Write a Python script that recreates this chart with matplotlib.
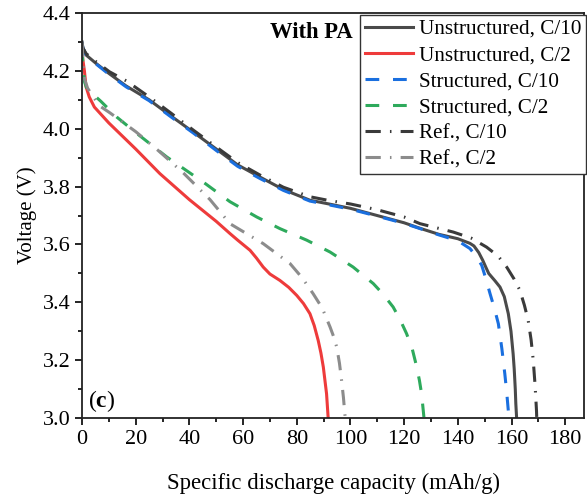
import numpy as np
import matplotlib
matplotlib.use("Agg")
import matplotlib.pyplot as plt
from matplotlib.ticker import MultipleLocator

plt.rcParams['font.family'] = ['Liberation Serif', 'DejaVu Serif']
plt.rcParams['mathtext.fontset'] = 'custom'
plt.rcParams['mathtext.rm'] = 'Liberation Serif'
plt.rcParams['mathtext.bf'] = 'Liberation Serif:bold'

# Unstructured, C/10
x_u10 = [0, 0.3, 1.5, 5.2, 10.2, 16.4, 25, 33, 41.5, 50, 58, 66.3, 75, 84.9, 92, 100, 110, 120,
         125.9, 133, 140, 144.5, 146, 147.8, 149.3, 150.5, 151.5, 152.6, 153.8, 155.7, 157.3,
         158.8, 159.8, 160.6, 161, 161.4, 161.6, 161.9]
v_u10 = [4.30, 4.28, 4.255, 4.226, 4.19, 4.148, 4.10, 4.045, 3.988, 3.93, 3.875, 3.833, 3.79, 3.753,
         3.74, 3.725, 3.70, 3.675, 3.656, 3.635, 3.62, 3.604, 3.595, 3.572, 3.545, 3.52, 3.50,
         3.488, 3.475, 3.453, 3.42, 3.361, 3.30, 3.222, 3.17, 3.10, 3.05, 3.0]
# Unstructured, C/2
x_u2 = [0, 0.3, 0.9, 1.5, 2.7, 4.6, 10, 20, 29, 40, 50, 55.1, 58, 62.6, 65, 67.5, 70, 73.7, 77,
        80, 82.5, 84.9, 86.5, 88, 89, 89.9, 90.5, 91.1, 91.7]
v_u2 = [4.27, 4.24, 4.20, 4.145, 4.11, 4.075, 4.02, 3.93, 3.845, 3.755, 3.68, 3.638, 3.615, 3.58,
        3.553, 3.522, 3.498, 3.476, 3.452, 3.424, 3.396, 3.361, 3.32, 3.268, 3.225, 3.176, 3.13,
        3.084, 3.0]
# Structured, C/10
x_s10 = [0, 0.3, 1.5, 5.2, 10.2, 16.4, 25, 33, 41.5, 50, 58, 66.3, 75, 84.9, 92, 100, 110, 120,
         125.9, 133, 140, 144.5, 146.8, 148.9, 150.5, 152, 153.6, 155.1, 156.4, 157.5, 158.2,
         158.8, 159.1]
v_s10 = [4.30, 4.28, 4.255, 4.224, 4.187, 4.145, 4.097, 4.042, 3.985, 3.925, 3.87, 3.828, 3.787,
         3.75, 3.737, 3.722, 3.698, 3.673, 3.655, 3.633, 3.613, 3.586, 3.56, 3.528, 3.48, 3.43,
         3.38, 3.326, 3.24, 3.153, 3.09, 3.026, 3.0]
# Structured, C/2
x_s2 = [0, 0.3, 0.5, 1, 2, 4.6, 7, 13, 20.4, 31.5, 46, 55.1, 65.1, 73.7, 83.7, 92.4, 101, 108.5,
        112, 115.9, 118.5, 120.9, 123, 124.7, 125.7, 126.5, 127.4]
v_s2 = [4.28, 4.23, 4.20, 4.16, 4.135, 4.115, 4.095, 4.04, 3.984, 3.903, 3.81, 3.748, 3.695, 3.655,
        3.615, 3.574, 3.522, 3.465, 3.43, 3.384, 3.34, 3.292, 3.24, 3.176, 3.13, 3.084, 3.0]
# Ref., C/10
x_r10 = [0, 0.3, 1.5, 5.2, 10.2, 16.6, 25, 33, 41.5, 50, 58, 66.3, 75, 84.9, 92, 100, 110, 120,
         125.9, 138.3, 145, 150.7, 155, 158.2, 161, 163.1, 164.8, 166.2, 167.3, 168.1, 168.8,
         169.3, 169.4]
v_r10 = [4.30, 4.28, 4.26, 4.232, 4.197, 4.165, 4.11, 4.055, 3.995, 3.937, 3.883, 3.84, 3.798,
         3.765, 3.752, 3.74, 3.72, 3.695, 3.672, 3.643, 3.622, 3.591, 3.56, 3.522, 3.48, 3.442,
         3.39, 3.338, 3.27, 3.199, 3.11, 3.026, 3.0]
# Ref., C/2
x_r2 = [0, 0.5, 1, 2.1, 6.4, 10.4, 20, 29, 38, 47.7, 55.1, 67.5, 77.5, 82, 86.1, 89.5, 92.4,
        93.8, 94.9, 95.9, 96.7, 97.4, 97.9, 98.1]
v_r2 = [4.30, 4.21, 4.17, 4.14, 4.08, 4.055, 3.99, 3.92, 3.845, 3.755, 3.672, 3.603, 3.534, 3.485,
        3.43, 3.38, 3.315, 3.28, 3.245, 3.19, 3.13, 3.07, 3.015, 3.0]

fig = plt.figure(figsize=(5.87, 4.96), dpi=100)
ax = fig.add_axes([0.1397, 0.157, 0.8552, 0.8168])

lw = 2.2
ax.plot(x_u10, v_u10, color='#4a4a4a', lw=lw, label='Unstructured, C/10')
ax.plot(x_u2, v_u2, color='#ee3b3b', lw=lw, label='Unstructured, C/2')
ax.plot(x_s10, v_s10, color='#1a6fdf', lw=lw, dashes=(4.5, 4.5), label='Structured, C/10')
ax.plot(x_s2, v_s2, color='#2eaa5c', lw=lw, dashes=(4.5, 4.5), label='Structured, C/2')
ax.plot(x_r10, v_r10, color='#3a3a3a', lw=lw, dashes=(5, 3, 0.5, 3), label='Ref., C/10')
ax.plot(x_r2, v_r2, color='#8c8c8c', lw=lw, dashes=(5, 3, 0.5, 3), label='Ref., C/2')

ax.set_xlim(0, 187)
ax.set_ylim(3.0, 4.4)
ax.xaxis.set_major_locator(MultipleLocator(20))
ax.xaxis.set_minor_locator(MultipleLocator(10))
ax.yaxis.set_major_locator(MultipleLocator(0.2))
ax.yaxis.set_minor_locator(MultipleLocator(0.1))
ax.yaxis.set_major_formatter(matplotlib.ticker.FormatStrFormatter('%.1f'))
ax.tick_params(which='major', direction='out', length=5, width=1.2, labelsize=16)
ax.tick_params(which='minor', direction='out', length=3, width=1.2)
for s in ax.spines.values():
    s.set_linewidth(1.3)
    s.set_color('#222222')

ax.set_xlabel('Specific discharge capacity (mAh/g)', fontsize=16.4, labelpad=17)
ax.set_ylabel('Voltage (V)', fontsize=15, labelpad=4)

leg = ax.legend(loc='upper right', bbox_to_anchor=(1.004, 0.995), fontsize=15.2, frameon=True,
                fancybox=False, edgecolor='#333333', framealpha=1, borderpad=0.2,
                labelspacing=0.3, handlelength=2.3, handletextpad=0.3, borderaxespad=0)
leg.get_frame().set_linewidth(1.0)

ax.text(70, 4.334, 'With PA', fontsize=16.3, fontweight='bold', ha='left', va='center')
ax.text(2.2, 3.06, r'($\mathbf{c}$)', fontsize=17, ha='left', va='center')

plt.savefig('out.png', dpi=100)
